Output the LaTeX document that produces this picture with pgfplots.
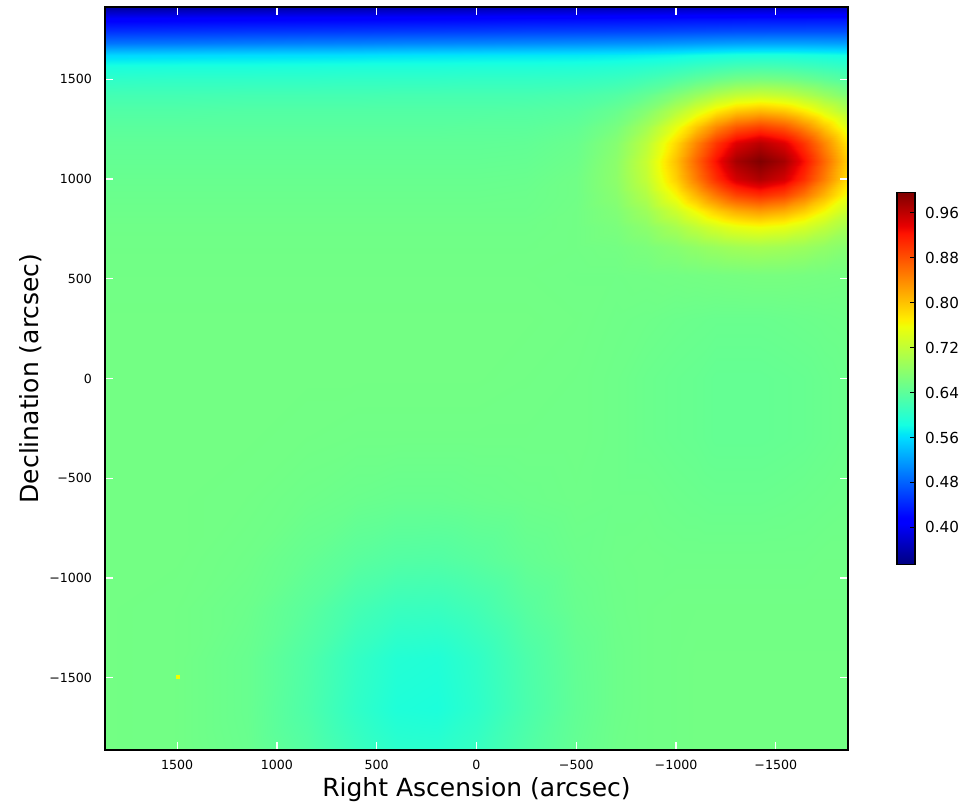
\documentclass[border=0pt]{standalone}
\usepackage{fontspec}
\setmainfont{DejaVu Sans}
\usepackage{pgfplots}
\pgfplotsset{compat=1.18}
\pgfplotsset{colormap={mpljet}{rgb(0pt)=(0,0,0.5) rgb(110pt)=(0,0,1) rgb(125pt)=(0,0,1) rgb(340pt)=(0,0.86,1) rgb(350pt)=(0,0.9,0.968) rgb(375pt)=(0.081,1,0.887) rgb(640pt)=(0.935,1,0.032) rgb(650pt)=(0.968,0.963,0) rgb(660pt)=(1,0.926,0) rgb(890pt)=(1,0.074,0) rgb(910pt)=(0.909,0,0) rgb(1000pt)=(0.5,0,0)}}
\begin{document}
\begin{tikzpicture}
\begin{axis}[
  name=main, scale only axis, width=371.5pt, height=371.5pt,
  xmin=-1862, xmax=1862, ymin=-1862, ymax=1862, x dir=reverse,
  axis on top,
  xtick={1500,1000,500,0,-500,-1000,-1500},
  xticklabels={1500,1000,500,0,−500,−1000,−1500},
  ytick={-1500,-1000,-500,0,500,1000,1500},
  yticklabels={−1500,−1000,−500,0,500,1000,1500},
  tick align=inside, major tick length=4pt,
  tick style={white, line width=0.6pt},
  axis line style={black, line width=0.8pt},
  xticklabel style={font=\fontsize{6.3}{7}\selectfont, yshift=-1.5pt},
  yticklabel style={font=\fontsize{6.3}{7}\selectfont, xshift=-3pt},
  xlabel={Right Ascension (arcsec)}, ylabel={Declination (arcsec)},
  xlabel style={at={(axis description cs:0.5,-0.0538)}, anchor=center, font=\fontsize{12.5}{14}\selectfont},
  ylabel style={at={(axis description cs:-0.0996,0.5)}, anchor=center, font=\fontsize{12.5}{14}\selectfont},
  colormap name=mpljet, point meta min=0.334, point meta max=0.996,
  colorbar,
  colorbar style={scale only axis, width=9pt, height=186pt,
    at={(parent axis.east)}, anchor=west, xshift=16pt,
    ytick={0.40,0.48,0.56,0.64,0.72,0.80,0.88,0.96},
    yticklabels={0.40,0.48,0.56,0.64,0.72,0.80,0.88,0.96},
    ytick pos=right, tick align=inside, major tick length=2.5pt,
    ytick style={black, line width=0.6pt},
    yticklabel style={font=\fontsize{7.6}{9}\selectfont, xshift=1.5pt},
    axis line style={black, line width=0.8pt}},
]
\addplot[surf, shader=interp, mesh/rows=27, mesh/cols=21, point meta=explicit]
 table[x=x, y=y, meta=v, row sep=\\] {
x y v\\
1862 1862 0.350\\ 1500 1862 0.352\\ 1150 1862 0.354\\ 850 1862 0.356\\ 600 1862 0.357\\ 400 1862 0.358\\ 200 1862 0.359\\ 0 1862 0.360\\ -250 1862 0.362\\ -500 1862 0.363\\ -700 1862 0.364\\ -850 1862 0.365\\ -1000 1862 0.366\\ -1100 1862 0.367\\ -1200 1862 0.367\\ -1300 1862 0.368\\ -1420 1862 0.369\\ -1540 1862 0.369\\ -1640 1862 0.370\\ -1740 1862 0.370\\ -1862 1862 0.371\\
1862 1800 0.410\\ 1500 1800 0.412\\ 1150 1800 0.414\\ 850 1800 0.415\\ 600 1800 0.416\\ 400 1800 0.417\\ 200 1800 0.418\\ 0 1800 0.419\\ -250 1800 0.421\\ -500 1800 0.422\\ -700 1800 0.423\\ -850 1800 0.424\\ -1000 1800 0.425\\ -1100 1800 0.426\\ -1200 1800 0.426\\ -1300 1800 0.427\\ -1420 1800 0.428\\ -1540 1800 0.428\\ -1640 1800 0.428\\ -1740 1800 0.429\\ -1862 1800 0.429\\
1862 1740 0.447\\ 1500 1740 0.449\\ 1150 1740 0.451\\ 850 1740 0.452\\ 600 1740 0.453\\ 400 1740 0.454\\ 200 1740 0.455\\ 0 1740 0.456\\ -250 1740 0.458\\ -500 1740 0.459\\ -700 1740 0.460\\ -850 1740 0.461\\ -1000 1740 0.463\\ -1100 1740 0.464\\ -1200 1740 0.465\\ -1300 1740 0.466\\ -1420 1740 0.466\\ -1540 1740 0.467\\ -1640 1740 0.467\\ -1740 1740 0.467\\ -1862 1740 0.467\\
1862 1680 0.492\\ 1500 1680 0.494\\ 1150 1680 0.497\\ 850 1680 0.499\\ 600 1680 0.500\\ 400 1680 0.502\\ 200 1680 0.503\\ 0 1680 0.504\\ -250 1680 0.506\\ -500 1680 0.508\\ -700 1680 0.510\\ -850 1680 0.511\\ -1000 1680 0.514\\ -1100 1680 0.516\\ -1200 1680 0.518\\ -1300 1680 0.520\\ -1420 1680 0.521\\ -1540 1680 0.521\\ -1640 1680 0.521\\ -1740 1680 0.520\\ -1862 1680 0.519\\
1862 1620 0.556\\ 1500 1620 0.558\\ 1150 1620 0.560\\ 850 1620 0.561\\ 600 1620 0.562\\ 400 1620 0.564\\ 200 1620 0.565\\ 0 1620 0.566\\ -250 1620 0.567\\ -500 1620 0.568\\ -700 1620 0.570\\ -850 1620 0.573\\ -1000 1620 0.577\\ -1100 1620 0.581\\ -1200 1620 0.584\\ -1300 1620 0.587\\ -1420 1620 0.588\\ -1540 1620 0.588\\ -1640 1620 0.586\\ -1740 1620 0.584\\ -1862 1620 0.581\\
1862 1560 0.587\\ 1500 1560 0.588\\ 1150 1560 0.588\\ 850 1560 0.589\\ 600 1560 0.590\\ 400 1560 0.590\\ 200 1560 0.590\\ 0 1560 0.591\\ -250 1560 0.591\\ -500 1560 0.592\\ -700 1560 0.595\\ -850 1560 0.599\\ -1000 1560 0.606\\ -1100 1560 0.612\\ -1200 1560 0.617\\ -1300 1560 0.622\\ -1420 1560 0.624\\ -1540 1560 0.622\\ -1640 1560 0.618\\ -1740 1560 0.613\\ -1862 1560 0.607\\
1862 1500 0.603\\ 1500 1500 0.604\\ 1150 1500 0.604\\ 850 1500 0.604\\ 600 1500 0.605\\ 400 1500 0.605\\ 200 1500 0.605\\ 0 1500 0.606\\ -250 1500 0.606\\ -500 1500 0.607\\ -700 1500 0.611\\ -850 1500 0.619\\ -1000 1500 0.631\\ -1100 1500 0.641\\ -1200 1500 0.650\\ -1300 1500 0.658\\ -1420 1500 0.661\\ -1540 1500 0.658\\ -1640 1500 0.651\\ -1740 1500 0.642\\ -1862 1500 0.630\\
1862 1420 0.620\\ 1500 1420 0.620\\ 1150 1420 0.621\\ 850 1420 0.621\\ 600 1420 0.621\\ 400 1420 0.622\\ 200 1420 0.622\\ 0 1420 0.622\\ -250 1420 0.622\\ -500 1420 0.625\\ -700 1420 0.632\\ -850 1420 0.646\\ -1000 1420 0.670\\ -1100 1420 0.688\\ -1200 1420 0.707\\ -1300 1420 0.721\\ -1420 1420 0.728\\ -1540 1420 0.721\\ -1640 1420 0.707\\ -1740 1420 0.689\\ -1862 1420 0.667\\
1862 1340 0.631\\ 1500 1340 0.631\\ 1150 1340 0.632\\ 850 1340 0.632\\ 600 1340 0.632\\ 400 1340 0.632\\ 200 1340 0.632\\ 0 1340 0.632\\ -250 1340 0.633\\ -500 1340 0.636\\ -700 1340 0.649\\ -850 1340 0.672\\ -1000 1340 0.711\\ -1100 1340 0.742\\ -1200 1340 0.773\\ -1300 1340 0.797\\ -1420 1340 0.808\\ -1540 1340 0.797\\ -1640 1340 0.773\\ -1740 1340 0.743\\ -1862 1340 0.706\\
1862 1260 0.638\\ 1500 1260 0.638\\ 1150 1260 0.638\\ 850 1260 0.638\\ 600 1260 0.638\\ 400 1260 0.638\\ 200 1260 0.638\\ 0 1260 0.639\\ -250 1260 0.639\\ -500 1260 0.644\\ -700 1260 0.662\\ -850 1260 0.696\\ -1000 1260 0.752\\ -1100 1260 0.797\\ -1200 1260 0.842\\ -1300 1260 0.876\\ -1420 1260 0.893\\ -1540 1260 0.876\\ -1640 1260 0.842\\ -1740 1260 0.798\\ -1862 1260 0.742\\
1862 1180 0.643\\ 1500 1180 0.643\\ 1150 1180 0.643\\ 850 1180 0.643\\ 600 1180 0.643\\ 400 1180 0.643\\ 200 1180 0.643\\ 0 1180 0.643\\ -250 1180 0.644\\ -500 1180 0.650\\ -700 1180 0.673\\ -850 1180 0.715\\ -1000 1180 0.785\\ -1100 1180 0.843\\ -1200 1180 0.899\\ -1300 1180 0.942\\ -1420 1180 0.963\\ -1540 1180 0.942\\ -1640 1180 0.899\\ -1740 1180 0.843\\ -1862 1180 0.773\\
1862 1090 0.646\\ 1500 1090 0.646\\ 1150 1090 0.646\\ 850 1090 0.646\\ 600 1090 0.646\\ 400 1090 0.646\\ 200 1090 0.646\\ 0 1090 0.646\\ -250 1090 0.647\\ -500 1090 0.653\\ -700 1090 0.678\\ -850 1090 0.725\\ -1000 1090 0.802\\ -1100 1090 0.865\\ -1200 1090 0.926\\ -1300 1090 0.974\\ -1420 1090 0.996\\ -1540 1090 0.974\\ -1640 1090 0.926\\ -1740 1090 0.865\\ -1862 1090 0.789\\
1862 1000 0.649\\ 1500 1000 0.649\\ 1150 1000 0.649\\ 850 1000 0.649\\ 600 1000 0.649\\ 400 1000 0.649\\ 200 1000 0.649\\ 0 1000 0.649\\ -250 1000 0.650\\ -500 1000 0.656\\ -700 1000 0.679\\ -850 1000 0.721\\ -1000 1000 0.791\\ -1100 1000 0.849\\ -1200 1000 0.905\\ -1300 1000 0.948\\ -1420 1000 0.969\\ -1540 1000 0.948\\ -1640 1000 0.905\\ -1740 1000 0.849\\ -1862 1000 0.779\\
1862 920 0.651\\ 1500 920 0.651\\ 1150 920 0.651\\ 850 920 0.651\\ 600 920 0.651\\ 400 920 0.651\\ 200 920 0.651\\ 0 920 0.651\\ -250 920 0.652\\ -500 920 0.656\\ -700 920 0.675\\ -850 920 0.708\\ -1000 920 0.764\\ -1100 920 0.810\\ -1200 920 0.854\\ -1300 920 0.889\\ -1420 920 0.905\\ -1540 920 0.889\\ -1640 920 0.854\\ -1740 920 0.810\\ -1862 920 0.754\\
1862 840 0.653\\ 1500 840 0.653\\ 1150 840 0.653\\ 850 840 0.653\\ 600 840 0.653\\ 400 840 0.653\\ 200 840 0.653\\ 0 840 0.653\\ -250 840 0.653\\ -500 840 0.657\\ -700 840 0.669\\ -850 840 0.692\\ -1000 840 0.730\\ -1100 840 0.761\\ -1200 840 0.792\\ -1300 840 0.815\\ -1420 840 0.827\\ -1540 840 0.815\\ -1640 840 0.792\\ -1740 840 0.761\\ -1862 840 0.724\\
1862 760 0.655\\ 1500 760 0.655\\ 1150 760 0.655\\ 850 760 0.655\\ 600 760 0.655\\ 400 760 0.655\\ 200 760 0.655\\ 0 760 0.655\\ -250 760 0.655\\ -500 760 0.657\\ -700 760 0.664\\ -850 760 0.678\\ -1000 760 0.700\\ -1100 760 0.719\\ -1200 760 0.737\\ -1300 760 0.751\\ -1420 760 0.758\\ -1540 760 0.751\\ -1640 760 0.737\\ -1740 760 0.719\\ -1862 760 0.697\\
1862 660 0.656\\ 1500 660 0.656\\ 1150 660 0.656\\ 850 660 0.656\\ 600 660 0.656\\ 400 660 0.656\\ 200 660 0.656\\ 0 660 0.656\\ -250 660 0.656\\ -500 660 0.657\\ -700 660 0.659\\ -850 660 0.665\\ -1000 660 0.674\\ -1100 660 0.682\\ -1200 660 0.689\\ -1300 660 0.695\\ -1420 660 0.698\\ -1540 660 0.695\\ -1640 660 0.690\\ -1740 660 0.682\\ -1862 660 0.673\\
1862 520 0.657\\ 1500 520 0.657\\ 1150 520 0.657\\ 850 520 0.657\\ 600 520 0.657\\ 400 520 0.657\\ 200 520 0.657\\ 0 520 0.657\\ -250 520 0.657\\ -500 520 0.656\\ -700 520 0.656\\ -850 520 0.657\\ -1000 520 0.658\\ -1100 520 0.659\\ -1200 520 0.660\\ -1300 520 0.661\\ -1420 520 0.662\\ -1540 520 0.662\\ -1640 520 0.661\\ -1740 520 0.660\\ -1862 520 0.659\\
1862 300 0.658\\ 1500 300 0.658\\ 1150 300 0.658\\ 850 300 0.658\\ 600 300 0.658\\ 400 300 0.658\\ 200 300 0.658\\ 0 300 0.658\\ -250 300 0.658\\ -500 300 0.657\\ -700 300 0.655\\ -850 300 0.654\\ -1000 300 0.652\\ -1100 300 0.651\\ -1200 300 0.650\\ -1300 300 0.650\\ -1420 300 0.650\\ -1540 300 0.651\\ -1640 300 0.652\\ -1740 300 0.653\\ -1862 300 0.654\\
1862 0 0.658\\ 1500 0 0.658\\ 1150 0 0.658\\ 850 0 0.658\\ 600 0 0.658\\ 400 0 0.658\\ 200 0 0.658\\ 0 0 0.658\\ -250 0 0.657\\ -500 0 0.656\\ -700 0 0.654\\ -850 0 0.651\\ -1000 0 0.649\\ -1100 0 0.648\\ -1200 0 0.646\\ -1300 0 0.646\\ -1420 0 0.646\\ -1540 0 0.647\\ -1640 0 0.648\\ -1740 0 0.650\\ -1862 0 0.652\\
1862 -300 0.658\\ 1500 -300 0.658\\ 1150 -300 0.658\\ 850 -300 0.657\\ 600 -300 0.656\\ 400 -300 0.656\\ 200 -300 0.656\\ 0 -300 0.656\\ -250 -300 0.656\\ -500 -300 0.656\\ -700 -300 0.654\\ -850 -300 0.651\\ -1000 -300 0.649\\ -1100 -300 0.648\\ -1200 -300 0.646\\ -1300 -300 0.646\\ -1420 -300 0.646\\ -1540 -300 0.647\\ -1640 -300 0.648\\ -1740 -300 0.650\\ -1862 -300 0.652\\
1862 -600 0.658\\ 1500 -600 0.658\\ 1150 -600 0.657\\ 850 -600 0.654\\ 600 -600 0.651\\ 400 -600 0.649\\ 200 -600 0.649\\ 0 -600 0.651\\ -250 -600 0.653\\ -500 -600 0.655\\ -700 -600 0.654\\ -850 -600 0.654\\ -1000 -600 0.652\\ -1100 -600 0.651\\ -1200 -600 0.650\\ -1300 -600 0.650\\ -1420 -600 0.650\\ -1540 -600 0.651\\ -1640 -600 0.652\\ -1740 -600 0.653\\ -1862 -600 0.654\\
1862 -900 0.658\\ 1500 -900 0.658\\ 1150 -900 0.655\\ 850 -900 0.647\\ 600 -900 0.638\\ 400 -900 0.633\\ 200 -900 0.632\\ 0 -900 0.637\\ -250 -900 0.646\\ -500 -900 0.652\\ -700 -900 0.655\\ -850 -900 0.656\\ -1000 -900 0.655\\ -1100 -900 0.655\\ -1200 -900 0.655\\ -1300 -900 0.655\\ -1420 -900 0.655\\ -1540 -900 0.655\\ -1640 -900 0.655\\ -1740 -900 0.656\\ -1862 -900 0.656\\
1862 -1150 0.658\\ 1500 -1150 0.657\\ 1150 -1150 0.652\\ 850 -1150 0.638\\ 600 -1150 0.621\\ 400 -1150 0.612\\ 200 -1150 0.611\\ 0 -1150 0.619\\ -250 -1150 0.636\\ -500 -1150 0.649\\ -700 -1150 0.654\\ -850 -1150 0.656\\ -1000 -1150 0.657\\ -1100 -1150 0.657\\ -1200 -1150 0.657\\ -1300 -1150 0.657\\ -1420 -1150 0.657\\ -1540 -1150 0.657\\ -1640 -1150 0.657\\ -1740 -1150 0.657\\ -1862 -1150 0.657\\
1862 -1400 0.658\\ 1500 -1400 0.657\\ 1150 -1400 0.649\\ 850 -1400 0.630\\ 600 -1400 0.607\\ 400 -1400 0.594\\ 200 -1400 0.592\\ 0 -1400 0.604\\ -250 -1400 0.627\\ -500 -1400 0.645\\ -700 -1400 0.653\\ -850 -1400 0.656\\ -1000 -1400 0.657\\ -1100 -1400 0.658\\ -1200 -1400 0.658\\ -1300 -1400 0.658\\ -1420 -1400 0.658\\ -1540 -1400 0.658\\ -1640 -1400 0.658\\ -1740 -1400 0.658\\ -1862 -1400 0.658\\
1862 -1650 0.658\\ 1500 -1650 0.657\\ 1150 -1650 0.649\\ 850 -1650 0.628\\ 600 -1650 0.604\\ 400 -1650 0.590\\ 200 -1650 0.588\\ 0 -1650 0.601\\ -250 -1650 0.625\\ -500 -1650 0.644\\ -700 -1650 0.653\\ -850 -1650 0.656\\ -1000 -1650 0.657\\ -1100 -1650 0.658\\ -1200 -1650 0.658\\ -1300 -1650 0.658\\ -1420 -1650 0.658\\ -1540 -1650 0.658\\ -1640 -1650 0.658\\ -1740 -1650 0.658\\ -1862 -1650 0.658\\
1862 -1862 0.658\\ 1500 -1862 0.657\\ 1150 -1862 0.650\\ 850 -1862 0.633\\ 600 -1862 0.612\\ 400 -1862 0.600\\ 200 -1862 0.599\\ 0 -1862 0.609\\ -250 -1862 0.630\\ -500 -1862 0.646\\ -700 -1862 0.654\\ -850 -1862 0.656\\ -1000 -1862 0.657\\ -1100 -1862 0.658\\ -1200 -1862 0.658\\ -1300 -1862 0.658\\ -1420 -1862 0.658\\ -1540 -1862 0.658\\ -1640 -1862 0.658\\ -1740 -1862 0.658\\ -1862 -1862 0.658\\
};
\addplot[only marks, mark=square*, mark size=0.75pt, color={rgb,1:red,0.95;green,1;blue,0}] coordinates {(1496,-1496)};
\end{axis}
\pgfresetboundingbox
\path[use as bounding box] ([shift={(-52.5pt,-26pt)}]main.south west) rectangle ([shift={(61.5pt,3.5pt)}]main.north east);
\end{tikzpicture}
\end{document}
